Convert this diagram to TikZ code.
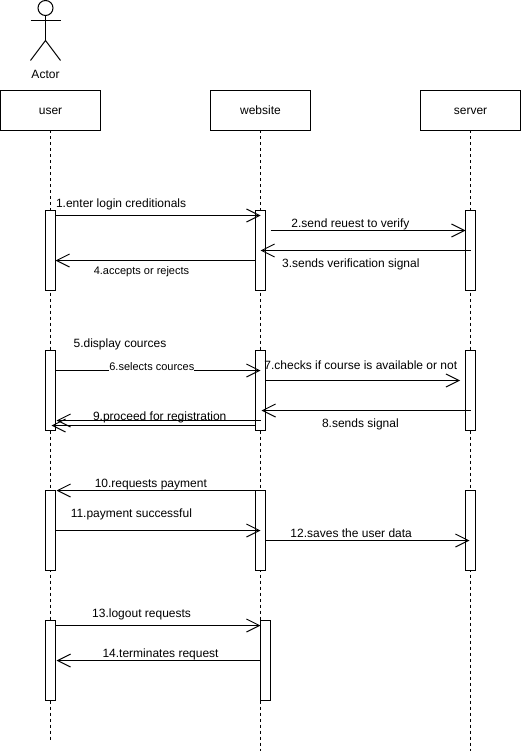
\documentclass[tikz,border=0pt]{standalone}
\usepackage{xcolor}
\usepackage{fontspec}
\setmainfont{Liberation Sans}
\usepackage{tikz}
\usetikzlibrary{positioning,arrows.meta}
\definecolor{ink}{HTML}{000000}

\begin{document}
\begin{tikzpicture}[
  x=1pt,y=1pt,
  head/.style={draw=ink,fill=white,line width=1pt,minimum height=40pt,minimum width=100pt,
               inner sep=0pt,outer sep=0pt,text height=11pt,text depth=2.5pt,font=\fontsize{12}{14}\selectfont},
  bar/.style={draw=ink,fill=white,line width=1pt,minimum height=80pt,minimum width=10pt,
              inner sep=0pt,outer sep=0pt},
  life/.style={draw=ink,line width=1pt,dash pattern=on 3pt off 3pt},
  limb/.style={draw=ink,line width=1pt},
  msg/.style={-{Straight Barb[length=13pt,width=13pt,line width=1pt]},draw=ink,line width=1pt},
  lbl/.style={text=ink,inner sep=0pt,text height=12pt,text depth=2.5pt,font=\fontsize{12}{14}\selectfont},
  lblsmall/.style={lbl,text height=9.5pt,font=\fontsize{11}{13}\selectfont}
]
\useasboundingbox (0,0) rectangle (521,-751);

\node[circle,draw=ink,line width=1pt,minimum size=15pt,inner sep=0pt,outer sep=0pt] (actorhead) at (45.5,-8) {};
\coordinate (armleft) at (30.5,-20.5);
\coordinate (armright) at (60.5,-20.5);
\coordinate (hip) at (45.5,-40.5);
\coordinate (footleft) at (30.5,-60.5);
\coordinate (footright) at (60.5,-60.5);
\draw[limb] (actorhead.south) -- (hip);
\draw[limb] (armleft) -- (armright);
\draw[limb] (footleft) -- (hip) -- (footright);
\node[lbl] (actorname) at (45.5,-73.5) {Actor};

\node[head] (user) at (50.5,-110.5) {user};
\node[head,right=110pt of user] (website) {website};
\node[head,right=110pt of website] (server) {server};

\coordinate[below=610pt of user.south] (userend);
\coordinate[below=620pt of website.south] (websiteend);
\coordinate[below=620pt of server.south] (serverend);
\draw[life] (user) -- (userend);
\draw[life] (website) -- (websiteend);
\draw[life] (server) -- (serverend);

\node[bar,below=80pt of user] (u1) {};
\node[bar,below=60pt of u1] (u2) {};
\node[bar,below=60pt of u2] (u3) {};
\node[bar,below=50pt of u3] (u4) {};
\node[bar,below=80pt of website] (w1) {};
\node[bar,below=60pt of w1] (w2) {};
\node[bar,below=60pt of w2] (w3) {};
\node[bar,below=50pt of w3,xshift=5pt] (w4) {};
\node[bar,below=80pt of server] (s1) {};
\node[bar,below=60pt of s1] (s2) {};
\node[bar,below=60pt of s2] (s3) {};

\node[lbl] (display) at (120,-342.7) {5.display cources};

\draw[msg] ([yshift=-5pt]u1.north east) -- node[lbl,pos=.32,yshift=12.5pt] (m1) {1.enter login creditionals} ([yshift=-5pt]w1.north);
\draw[msg] ([xshift=5pt,yshift=-20pt]w1.north east) -- node[lbl,pos=.41,yshift=8pt] (m2) {2.send reuest to verify} ([yshift=-20pt]s1.north west);
\draw[msg] ([yshift=-40pt]s1.north) -- node[lbl,pos=.57,yshift=-12pt] (m3) {3.sends verification signal} ([yshift=-40pt]w1.north);
\draw[msg] ([yshift=-50pt]w1.north west) -- node[lblsmall,pos=.57,yshift=-10.5pt] (m4) {4.accepts or rejects} ([yshift=-50pt]u1.north east);

\draw[msg] ([yshift=-20pt]u2.north east) -- node[lblsmall,fill=white,pos=.47,yshift=4pt] (m6) {6.selects cources} ([yshift=-20pt]w2.north);
\draw[msg] ([yshift=-30pt]w2.north east) -- node[lbl,pos=.49,yshift=15.5pt] (m7) {7.checks if course is available or not} ([xshift=-5.5pt,yshift=-30pt]s2.north west);
\draw[msg] ([yshift=-60pt]s2.north) -- node[lbl,pos=.527,yshift=-12pt] (m8) {8.sends signal} ([xshift=1pt,yshift=-60pt]w2.north);
\draw[msg] ([yshift=-70pt]w2.north) -- node[lbl,pos=.494,yshift=5pt] (m9) {9.proceed for registration} ([xshift=1pt,yshift=-70pt]u2.north east);
\draw[msg] ([yshift=-75pt]w2.north west) -- ([xshift=-4pt,yshift=-75pt]u2.north east);

\draw[msg] (w3.north west) -- node[lbl,pos=.526,yshift=8pt] (m10) {10.requests payment} ([xshift=1pt]u3.north east);
\draw[msg] ([yshift=-40pt]u3.north east) -- node[lbl,pos=.37,yshift=18pt] (m11) {11.payment successful} ([yshift=-40pt]w3.north);
\draw[msg] ([yshift=-50pt]w3.north east) -- node[lbl,pos=.42,yshift=8pt] (m12) {12.saves the user data} ([xshift=-1pt,yshift=-50pt]s3.north);

\draw[msg] ([yshift=-5pt]u4.north east) -- node[lbl,pos=.42,yshift=13pt] (m13) {13.logout requests} ([yshift=-5pt]w4.north west);
\draw[msg] ([yshift=-40pt]w4.north west) -- node[lbl,pos=.49,yshift=8pt] (m14) {14.terminates request} ([xshift=1pt,yshift=-40pt]u4.north east);
\end{tikzpicture}
\end{document}
